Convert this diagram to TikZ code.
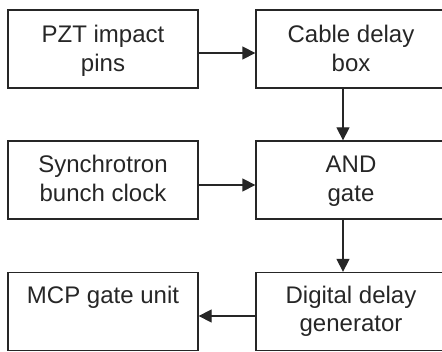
\documentclass[tikz,border=0pt]{standalone}
\usepackage{fontspec}
\setmainfont{Liberation Sans}
\usetikzlibrary{arrows.meta}
\begin{document}
\begin{tikzpicture}[x=1pt,y=-1pt,
  blk/.style={draw=black!85, line width=1.3pt, minimum width=190pt, minimum height=78pt, inner sep=0pt},
  txt/.style={anchor=base, inner sep=0pt, text=black!85, font=\fontsize{24}{28.5}\selectfont},
  conn/.style={draw=black!85, line width=1.3pt, -{Triangle[length=13pt,width=13pt]}}]
\useasboundingbox (0,0) rectangle (442,352);
\clip (0,0) rectangle (442,352);
\node[blk] (b1) at (103,49) {};
\node[blk] (b2) at (351,49) {};
\node[blk] (b3) at (103,180) {};
\node[blk] (b4) at (351,180) {};
\node[blk] (b5) at (103,311.5) {};
\node[blk] (b6) at (351,311.5) {};
\node[txt] (t1a) at ([yshift=-33.3pt]b1.north) {PZT impact};
\node[txt] (t1b) at ([yshift=-61.7pt]b1.north) {pins};
\node[txt] (t2a) at ([yshift=-33.3pt]b2.north) {Cable delay};
\node[txt] (t2b) at ([yshift=-61.7pt]b2.north) {box};
\node[txt] (t3a) at ([yshift=-32.3pt]b3.north) {Synchrotron};
\node[txt] (t3b) at ([yshift=-60.7pt]b3.north) {bunch clock};
\node[txt] (t4a) at ([yshift=-32.3pt]b4.north) {AND};
\node[txt] (t4b) at ([yshift=-60.7pt]b4.north) {gate};
\node[txt] (t5a) at ([yshift=-32pt]b5.north) {MCP gate unit};
\node[txt] (t6a) at ([yshift=-32pt]b6.north) {Digital delay};
\node[txt] (t6b) at ([yshift=-60pt]b6.north) {generator};
\draw[conn] ([yshift=-4pt]b1.east) -- ([yshift=-4pt]b2.west);
\draw[conn] ([yshift=-5pt]b3.east) -- ([yshift=-5pt]b4.west);
\draw[conn] ([yshift=-4.5pt]b6.west) -- ([yshift=-4.5pt]b5.east);
\draw[conn] ([xshift=-8pt]b2.south) -- ([xshift=-8pt]b4.north);
\draw[conn] ([xshift=-8pt]b4.south) -- ([xshift=-8pt]b6.north);
\end{tikzpicture}
\end{document}
